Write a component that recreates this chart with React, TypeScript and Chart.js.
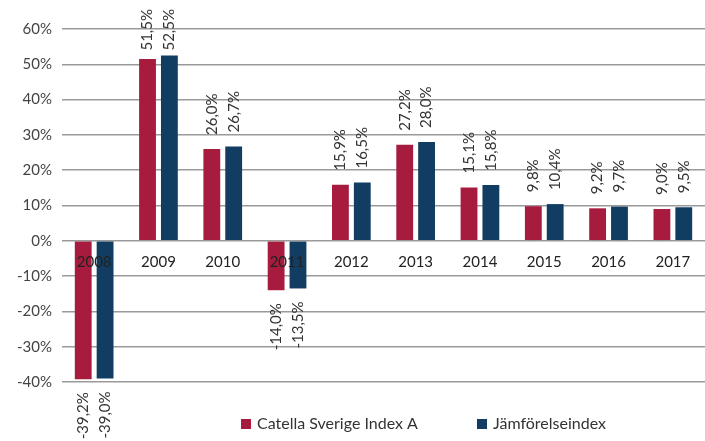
import React, { useEffect, useRef } from "react";
import { Chart, registerables } from "chart.js";

Chart.register(...registerables);

const years = ["2008", "2009", "2010", "2011", "2012", "2013", "2014", "2015", "2016", "2017"];
const catellaValues = [-39.2, 51.5, 26.0, -14.0, 15.9, 27.2, 15.1, 9.8, 9.2, 9.0];
const benchmarkValues = [-39.0, 52.5, 26.7, -13.5, 16.5, 28.0, 15.8, 10.4, 9.7, 9.5];
const seriesNames = ["Catella Sverige Index A", "Jämförelseindex"];
const seriesColors = ["#A71B3E", "#113D63"];

const FONT = "Lato, 'Open Sans', sans-serif";

const labelPlugin = {
  id: "barLabels",
  afterDatasetsDraw(chart: any) {
    const ctx = chart.ctx;
    ctx.save();
    ctx.font = `15px ${FONT}`;
    ctx.fillStyle = "#333";
    ctx.textBaseline = "middle";
    chart.data.datasets.forEach((ds: any, di: number) => {
      const meta = chart.getDatasetMeta(di);
      meta.data.forEach((bar: any, i: number) => {
        const v = ds.data[i];
        const txt = v.toFixed(1).replace(".", ",") + "%";
        const w = ctx.measureText(txt).width;
        ctx.save();
        if (v >= 0) {
          let y = bar.y - 14;
          if (y - w < 9) y = 9 + w;
          ctx.translate(bar.x, y);
          ctx.rotate(-Math.PI / 2);
          ctx.textAlign = "left";
        } else {
          ctx.translate(bar.x, bar.y + 13);
          ctx.rotate(-Math.PI / 2);
          ctx.textAlign = "right";
        }
        ctx.fillText(txt, 0, 0);
        ctx.restore();
      });
    });
    ctx.restore();
  },
};

const legendPlugin = {
  id: "customLegend",
  afterDraw(chart: any) {
    const ctx = chart.ctx;
    ctx.save();
    ctx.font = `16px ${FONT}`;
    ctx.textBaseline = "middle";
    ctx.textAlign = "left";
    const xs = [241, 477];
    const cy = 424;
    chart.data.datasets.forEach((ds: any, di: number) => {
      ctx.fillStyle = ds.backgroundColor;
      ctx.fillRect(xs[di], cy - 5, 10, 10);
      ctx.fillStyle = "#333";
      ctx.fillText(ds.label, xs[di] + 16, cy);
    });
    ctx.restore();
  },
};

function App() {
  const ref = useRef<HTMLCanvasElement | null>(null);
  useEffect(() => {
    if (!ref.current) return;
    const chart = new Chart(ref.current, {
      type: "bar",
      data: {
        labels: years,
        datasets: [
          { label: seriesNames[0], data: catellaValues, backgroundColor: seriesColors[0] },
          { label: seriesNames[1], data: benchmarkValues, backgroundColor: seriesColors[1] },
        ],
      },
      options: {
        animation: false,
        responsive: false,
        maintainAspectRatio: false,
        datasets: { bar: { barPercentage: 0.77, categoryPercentage: 0.68 } },
        layout: { padding: { top: 29, bottom: 59, left: 0, right: 0 } },
        plugins: {
          legend: { display: false },
          tooltip: { enabled: false },
        },
        scales: {
          x: {
            position: { y: 0 } as any,
            grid: { display: false, drawTicks: false },
            border: { display: false },
            ticks: { z: 2, font: { family: FONT, size: 15 }, color: "#222", padding: 12, maxRotation: 0 },
          },
          y: {
            min: -40,
            max: 60,
            afterFit: (s: any) => {
              s.width = 62;
            },
            ticks: {
              stepSize: 10,
              font: { family: FONT, size: 15 },
              color: "#444",
              padding: 10,
              callback: (v: any) => `${v}%`,
            },
            grid: { color: "#9a9a9a", lineWidth: 1.5, drawTicks: false },
            border: { display: false },
          },
        },
      } as any,
      plugins: [labelPlugin, legendPlugin],
    });
    return () => chart.destroy();
  }, []);
  return (
    <div style={{ position: "fixed", left: 0, top: 0, width: 705, height: 441, background: "#fff" }}>
      <canvas ref={ref} width={705} height={441} style={{ width: 705, height: 441, display: "block" }} />
    </div>
  );
}

export default App;
